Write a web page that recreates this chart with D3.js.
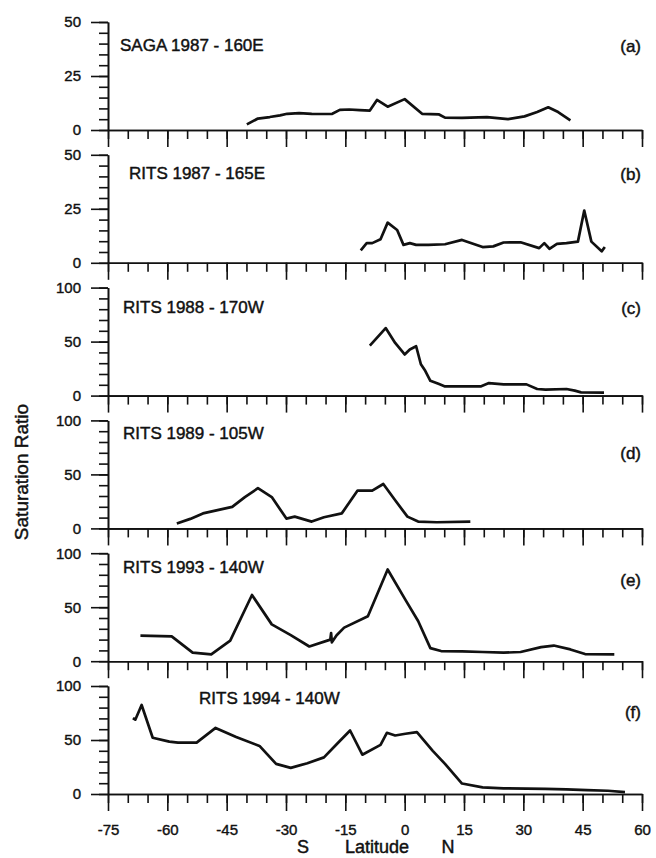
<!DOCTYPE html>
<html>
<head>
<meta charset="utf-8">
<style>
  body { margin: 0; background: #fff; }
  svg { display: block; }
  text { font-family: "Liberation Sans", Arial, sans-serif; fill: #111; }
  .tick text { font-size: 15px; stroke: #111; stroke-width: 0.4; }
  .title { font-size: 17px; stroke: #111; stroke-width: 0.45; }
  .domain, .tick line { stroke: #111; stroke-width: 1.6; }
</style>
</head>
<body>
<script src="https://d3js.org/d3.v7.min.js"></script>
<script>

var width = 656,
    height = 858;

// panel names and tags
var titles = ["SAGA 1987 - 160E", "RITS 1987 - 165E", "RITS 1988 - 170W",
              "RITS 1989 - 105W", "RITS 1993 - 140W", "RITS 1994 - 140W"];
var tags = ["(a)", "(b)", "(c)", "(d)", "(e)", "(f)"];
var yMax = [50, 50, 100, 100, 100, 100];
var xTicks = [-75, -60, -45, -30, -15, 0, 15, 30, 45, 60];

// latitude, saturation ratio
var sagaLat = [-39.9, -37.1, -34.1, -31.5, -29.7, -26.7, -23.5, -20.4, -18.3, -16.4, -14, -11.4, -8.8, -7, -4.3, 0, 4.4, 8.7, 10.2, 14.5, 20.8, 26.1, 30.3, 33.5, 36.3, 38.8, 41.9];
var sagaVal = [2.6, 5.3, 6.0, 6.8, 7.5, 7.8, 7.5, 7.4, 7.5, 9.3, 9.5, 9.2, 9.0, 13.9, 10.8, 14.3, 7.5, 7.2, 5.7, 5.6, 6.0, 5.0, 6.3, 8.3, 10.5, 8.3, 4.5];

var rits87Lat = [-11.1, -9.6, -8.2, -6.1, -4.3, -1.9, -0.3, 1.3, 2.9, 6.0, 10.2, 14.5, 19.7, 22.4, 25.0, 29.3, 34.0, 35.3, 36.6, 38.5, 40.9, 43.8, 45.4, 47.2, 49.8, 50.6];
var rits87Val = [5.8, 9.1, 9.1, 10.9, 18.6, 15.2, 8.3, 9.1, 8.3, 8.3, 8.6, 10.6, 7.3, 7.6, 9.4, 9.5, 6.8, 9.1, 6.5, 8.8, 9.1, 9.8, 24.2, 9.8, 5.3, 7.3];

var rits88Lat = [-8.8, -4.8, -2.4, 0, 1.3, 2.9, 4.1, 5.2, 6.5, 8.7, 10.2, 14.5, 19.2, 21.3, 25.0, 30.8, 33.5, 35.6, 40.9, 43.0, 44.6, 50.4];
var rits88Val = [46.3, 62.5, 48.8, 38.1, 42.7, 45.7, 29.0, 22.9, 13.7, 10.7, 8.5, 8.5, 8.5, 11.6, 10.4, 10.4, 6.1, 5.5, 6.1, 4.6, 3.0, 2.7];

var rits89Lat = [-57.6, -54.2, -51.0, -47.3, -43.6, -40.4, -37.1, -33.6, -29.9, -27.8, -23.5, -20.4, -15.9, -11.9, -8.2, -5.4, -2.4, 0.7, 3.4, 8.1, 16.6];
var rits89Val = [4.5, 8.8, 13.9, 16.9, 19.9, 29.0, 37.2, 29.0, 9.1, 10.9, 6.3, 10.3, 13.9, 35.0, 35.0, 41.1, 26.0, 10.9, 6.3, 5.7, 6.3];

var rits93Lat = [-66.8, -58.9, -53.6, -48.9, -44.1, -38.6, -33.6, -28.8, -24.1, -18.8, -18.6, -18.4, -17.2, -15.3, -9.3, -4.3, 0.2, 3.4, 6.5, 9.2, 14.5, 19.7, 25.0, 29.3, 34.5, 37.7, 41.9, 45.6, 53.0];
var rits93Val = [23.6, 23.0, 7.9, 6.3, 19.0, 61.3, 34.1, 24.2, 13.6, 20.0, 26.0, 17.5, 24.0, 31.1, 41.7, 84.9, 56.8, 37.2, 12.1, 9.4, 9.1, 8.5, 7.9, 8.5, 13.0, 14.5, 10.9, 6.6, 6.3];

var rits94Lat = [-68.7, -68.1, -66.5, -63.7, -59.5, -57.3, -52.6, -47.8, -42.6, -36.7, -32.5, -28.8, -24.6, -20.4, -17.2, -13.8, -10.7, -6.1, -4.5, -2.4, 0.2, 3.1, 7.1, 10.2, 14.5, 19.7, 25.0, 35.6, 40.9, 46.1, 51.4, 55.7];
var rits94Val = [70.3, 68.8, 82.4, 52.1, 48.5, 47.6, 47.6, 61.2, 52.7, 44.5, 27.9, 24.2, 28.5, 33.9, 46.1, 58.8, 36.4, 45.5, 56.7, 54.2, 55.8, 57.3, 40.0, 27.9, 9.7, 6.1, 5.2, 4.8, 4.2, 3.6, 3.0, 1.8];

var series = [
  [sagaLat, sagaVal], [rits87Lat, rits87Val], [rits88Lat, rits88Val],
  [rits89Lat, rits89Val], [rits93Lat, rits93Val], [rits94Lat, rits94Val]
];

// layout
var left = 108, right = 642;
var firstBottom = 130, step = 132.8, plotH = 108;
var titleX = [120, 129, 123, 123, 123, 199];
var titleDy = [29, 24, 25, 19, 20, 18];
var tagDy = [30, 25, 26, 39, 33, 32];

var svg = d3.select("body").append("svg")
    .attr("width", width)
    .attr("height", height);

var x = d3.scaleLinear().domain([-75, 60]).range([left, right]);

var line = d3.line()
    .x(function(d) { return x(d[0]); })
    .y(function(d) { return d[1]; });

series.forEach(function(s, i) {
  var bottom = firstBottom + step * i,
      top = bottom - plotH,
      last = i === series.length - 1;

  var y = d3.scaleLinear().domain([0, yMax[i]]).range([bottom, top]);
  var g = svg.append("g");

  // x axis: major every 15, minor every 5, ticks pointing down
  g.append("g")
    .attr("transform", "translate(0," + bottom + ")")
    .call(d3.axisBottom(x).tickValues(d3.range(-75, 61, 5)).tickSize(9).tickFormat("").tickSizeOuter(0));
  var major = g.append("g")
    .attr("transform", "translate(0," + bottom + ")")
    .call(d3.axisBottom(x).tickValues(xTicks).tickSize(17).tickSizeOuter(0)
      .tickFormat(function(d) { return last ? (d < 0 ? "-" + Math.abs(d) : d) : ""; }));
  major.selectAll(".tick text").attr("y", 30).attr("dy", "0.71em");

  // y axis
  var minorStep = yMax[i] / 10;
  g.append("g")
    .attr("transform", "translate(" + left + ",0)")
    .call(d3.axisLeft(y).tickValues(d3.range(0, yMax[i] + 0.1, minorStep)).tickSize(9).tickFormat("").tickSizeOuter(0));
  g.append("g")
    .attr("transform", "translate(" + left + ",0)")
    .call(d3.axisLeft(y).tickValues([0, yMax[i] / 2, yMax[i]]).tickSize(17).tickSizeOuter(0).tickPadding(10));

  g.selectAll(".domain").attr("stroke-width", 1.8);

  // data line
  var pts = d3.zip(s[0], s[1]).map(function(d) { return [d[0], y(d[1])]; });
  g.append("path")
    .attr("d", line(pts))
    .attr("fill", "none")
    .attr("stroke", "#111")
    .attr("stroke-width", 2.7)
    .attr("stroke-linejoin", "round");

  g.append("text")
    .attr("class", "title")
    .attr("x", titleX[i])
    .attr("y", top + titleDy[i])
    .text(titles[i]);

  g.append("text")
    .attr("class", "title")
    .attr("x", right - 1)
    .attr("y", top + tagDy[i])
    .attr("text-anchor", "end")
    .text(tags[i]);
});

// axis titles
svg.append("text")
  .attr("transform", "translate(28,472) rotate(-90)")
  .attr("text-anchor", "middle")
  .style("font-size", "19px")
  .style("stroke", "#111").style("stroke-width", 0.45)
  .text("Saturation Ratio");

var xt = svg.append("g").style("font-size", "18px")
  .style("stroke", "#111").style("stroke-width", 0.45);
xt.append("text").attr("x", 303).attr("y", 853).attr("text-anchor", "middle").text("S");
xt.append("text").attr("x", 377).attr("y", 853).attr("text-anchor", "middle").text("Latitude");
xt.append("text").attr("x", 448).attr("y", 853).attr("text-anchor", "middle").text("N");

</script>
</body>
</html>
